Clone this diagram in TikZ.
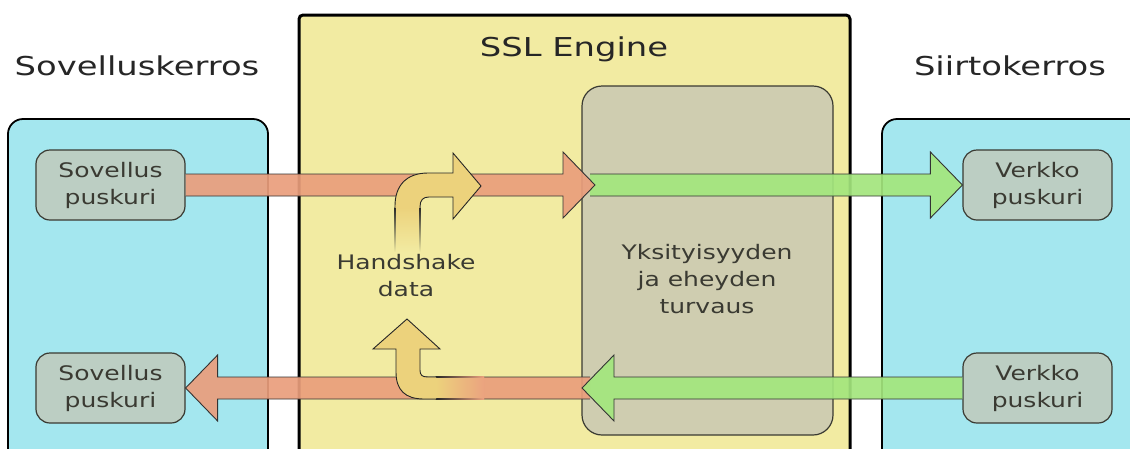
\documentclass[tikz,border=0pt]{standalone}
\usepackage{fontspec}
\newfontfamily\diafont[FakeStretch=1.25]{DejaVu Sans}
\newfontfamily\titlefont[FakeStretch=1.3]{DejaVu Sans}
\usetikzlibrary{calc}

\definecolor{layerfill}{HTML}{A4E7EF}
\definecolor{enginefill}{HTML}{F2EBA2}
\definecolor{cryptofill}{HTML}{CFCDB0}
\definecolor{bufferfill}{HTML}{BCCEC3}
\definecolor{plainred}{HTML}{EA9E7C}
\definecolor{plainredmix}{HTML}{EBA37F}
\definecolor{securegreen}{HTML}{A3E67D}
\definecolor{shakeyellow}{HTML}{ECD27C}
\definecolor{inkgray}{HTML}{3A3A32}

% wide horizontal block arrow from #2 to the tip #3, direction #4 (1 = right, -1 = left)
\newcommand\fatarrow[4]{%
  \path[#1] let \p1=(#2), \p2=(#3) in
    (\x1,\y1+11pt) -- (\x2-#4*32pt,\y1+11pt) -- (\x2-#4*32pt,\y1+33pt) -- (\x2,\y2)
    -- (\x2-#4*32pt,\y1-33pt) -- (\x2-#4*32pt,\y1-11pt) -- (\x1,\y1-11pt);}

\begin{document}
\begin{tikzpicture}[x=1pt,y=-1pt,
  layerbox/.style={draw=black, line width=1.8pt, fill=layerfill, rounded corners=15pt},
  enginebox/.style={draw=black, line width=3pt, fill=enginefill, rounded corners=4pt},
  cryptobox/.style={draw=inkgray, line width=1.2pt, fill=cryptofill, rounded corners=20pt},
  buffer/.style={draw=inkgray, line width=1.2pt, fill=bufferfill, rounded corners=14pt,
    minimum width=149pt, minimum height=70pt, align=center, text=inkgray,
    font=\diafont\fontsize{20}{27}\selectfont},
  label/.style={align=center, text=inkgray, font=\diafont\fontsize{20}{27}\selectfont},
  title/.style={text=black!85, font=\titlefont\fontsize{26}{30}\selectfont},
  flow/.style={draw=black!80, line width=0.9pt, fill opacity=0.92, line join=miter},
  redflow/.style={flow, fill=plainred},
  greenflow/.style={flow, fill=securegreen},
  shake/.style={draw=black!85, line width=0.9pt, fill=shakeyellow},
]
\useasboundingbox (0,0) rectangle (1130,448);
\clip (0,0) rectangle (1130,448);
\fill[white] (0,0) rectangle (1130,448);

% layer containers
\path[layerbox] (8,119) rectangle (268,470);
\path[layerbox] (882,119) rectangle (1150,470);
\path[enginebox] (299,15) rectangle (850,470);
\path[cryptobox] (582,86) rectangle (833,435);

% titles
\node[title] (tApp) at (137,66) {Sovelluskerros};
\node[title] (tSSL) at (574,49) {SSL Engine};
\node[title] (tNet) at (1010,66) {Siirtokerros};

% buffers
\node[buffer] (appTop) at (110.5,185) {Sovellus\\puskuri};
\node[buffer] (appBot) at (110.5,388) {Sovellus\\puskuri};
\node[buffer] (netTop) at (1037.5,185) {Verkko\\puskuri};
\node[buffer] (netBot) at (1037.5,388) {Verkko\\puskuri};

% texts inside the engine
\node[label] (crypto) at (707,279) {Yksityisyyden\\ja eheyden\\turvaus};
\node[label] (hs) at (406,276) {Handshake\\data};

% points where plain and protected streams meet
\coordinate (encIn) at (595,185);
\coordinate (encOut) at (590,185);
\coordinate (decIn) at (582,388);
\coordinate (decOut) at (590,388);

% outgoing stream: plain (red) then protected (green)
\fatarrow{greenflow}{encOut}{netTop.west}{1}
\fatarrow{redflow}{appTop.east}{encIn}{1}

% incoming stream: protected (green) then plain (red)
\fatarrow{redflow}{decOut}{appBot.east}{-1}
\fatarrow{greenflow}{netBot.west}{decIn}{-1}

% handshake data leaving the engine: solid bend, then a tail fading out downwards
\path[shake]
  (395,208) -- (395,206) .. controls (395,186) and (406,173) .. (428,173)
  -- (453,173) -- (453,153) -- (481,186) -- (453,219) -- (453,197) -- (429,197)
  .. controls (423,197) and (420,200) .. (420,207) -- (420,208);
\shade[top color=shakeyellow, bottom color=enginefill] (395,207.5) rectangle (420,252);
\shade[top color=black!85, bottom color=enginefill] (394.55,207.5) rectangle (395.45,252);
\shade[top color=black!85, bottom color=enginefill] (419.55,207.5) rectangle (420.45,252);

% handshake data arriving at the engine: tail fading into the plain stream, then the bend
\shade[left color=shakeyellow, right color=plainredmix] (435.5,377) rectangle (484,399);
\shade[left color=black!85, right color=plainredmix] (435.5,376.55) rectangle (484,377.45);
\shade[left color=black!85, right color=plainredmix] (435.5,398.55) rectangle (484,399.45);
\path[shake]
  (436,377) -- (428,377) .. controls (422,377) and (420,375) .. (420,370)
  -- (420,349) -- (440,349) -- (407,319) -- (373,349) -- (396,349) -- (396,372)
  .. controls (396,390) and (405,399) .. (424,399) -- (436,399);
\end{tikzpicture}
\end{document}
